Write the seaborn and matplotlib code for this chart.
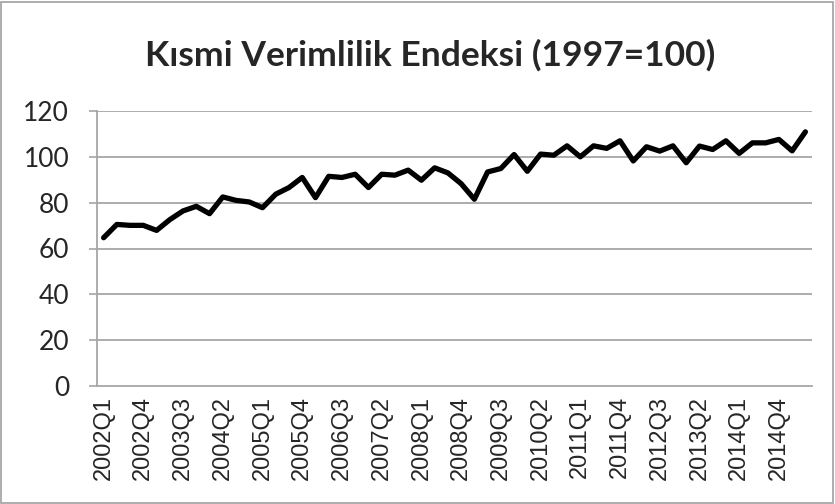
import matplotlib
matplotlib.use("Agg")
import matplotlib.pyplot as plt
import seaborn as sns
import pandas as pd
from matplotlib.patches import Rectangle

quarters = [f"{y}Q{q}" for y in range(2002, 2016) for q in range(1, 5)][:54]
values = [64.7, 70.5, 70.1, 70.1, 67.9, 72.6, 76.4, 78.4, 75.2, 82.5,
          81.0, 80.3, 77.8, 83.7, 86.6, 91.0, 82.2, 91.5, 91.0, 92.4,
          86.6, 92.4, 92.0, 94.2, 89.8, 95.2, 93.0, 88.3, 81.5, 93.4,
          94.9, 101.0, 93.7, 101.2, 100.7, 104.8, 100.0, 104.8, 103.7, 107.0,
          98.2, 104.4, 102.5, 104.8, 97.4, 104.7, 103.2, 107.0, 101.5, 106.1,
          106.1, 107.6, 102.6, 110.9]
title = "Kısmi Verimlilik Endeksi (1997=100)"
yticks = [0, 20, 40, 60, 80, 100, 120]

df = pd.DataFrame({"quarter": quarters, "value": values})

sns.set_style("white")
plt.rcParams["font.family"] = ["Lato", "DejaVu Sans"]

fig = plt.figure(figsize=(8.35, 5.04), dpi=100)
ax = fig.add_axes([97 / 835, 1 - 386 / 504, (812 - 97) / 835, (386 - 111) / 504])

sns.lineplot(data=df, x="quarter", y="value", ax=ax, color="black",
             linewidth=3.8, sort=False)

grid_c = "#a6a6a6"
ax.set_ylim(0, 120)
ax.set_xlim(-0.5, len(quarters) - 0.5)
ax.set_yticks(yticks)
ax.set_yticklabels([str(t) for t in yticks], fontsize=19, family=["Lato", "DejaVu Sans"])
for t in yticks:
    if t > 0:
        ax.axhline(t, color=grid_c, linewidth=1.3, zorder=0)

lab_idx = list(range(0, len(quarters), 3))
ax.set_xticks(lab_idx)
ax.set_xticklabels([quarters[i] for i in lab_idx], rotation=90, fontsize=17,
                   family=["Liberation Sans", "DejaVu Sans"])
ax.set_xticks([i - 0.5 for i in range(len(quarters) + 1)], minor=True)
ax.tick_params(axis="x", which="major", length=0, pad=7)
ax.tick_params(axis="x", which="minor", length=5, width=1.2, color=grid_c, direction="out")
ax.tick_params(axis="y", length=6, width=1.2, color=grid_c, pad=14, direction="out", left=True)
ax.set_xlabel("")
ax.set_ylabel("")

for s in ["top", "right"]:
    ax.spines[s].set_visible(False)
for s in ["left", "bottom"]:
    ax.spines[s].set_color(grid_c)
    ax.spines[s].set_linewidth(1.3)

fig.text(0.515, 1 - 55 / 504, title, ha="center", va="center", fontsize=25.5,
         fontweight="bold", family=["Lato", "DejaVu Sans"])

fig.patches.append(Rectangle((1 / 835, 1 / 504), 832 / 835, 501 / 504, transform=fig.transFigure,
                             fill=False, edgecolor="#a0a0a0", linewidth=1.2))

fig.savefig("out.png", dpi=100)
